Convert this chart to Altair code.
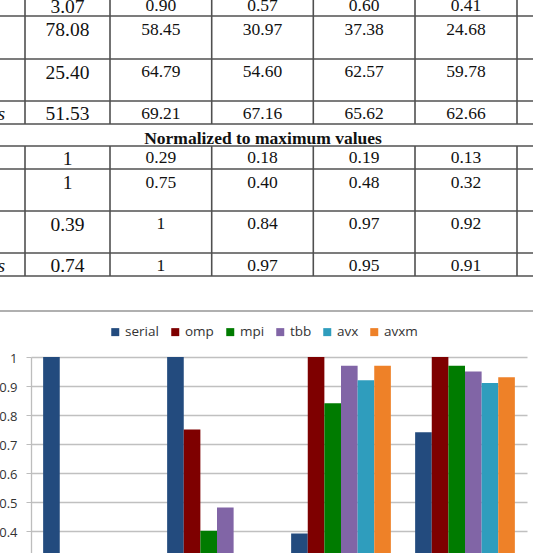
import altair as alt
import pandas as pd

# ---------------- data ----------------
series = ["serial", "omp", "mpi", "tbb", "avx", "avxm"]
colors = ["#234B7E", "#7E0000", "#007B00", "#8165A6", "#2F9DBD", "#EE8128"]
groups = ["row 1", "row 2", "row 3", "row 4"]
serial = [1.00, 1.00, 0.39, 0.74]
omp = [0.29, 0.75, 1.00, 1.00]
mpi = [0.18, 0.40, 0.84, 0.97]
tbb = [0.19, 0.48, 0.97, 0.95]
avx = [0.13, 0.32, 0.92, 0.91]
avxm = [0.14, 0.30, 0.97, 0.93]

raw_rows = [
    ["3.07", "0.90", "0.57", "0.60", "0.41"],
    ["78.08", "58.45", "30.97", "37.38", "24.68"],
    ["25.40", "64.79", "54.60", "62.57", "59.78"],
    ["51.53", "69.21", "67.16", "65.62", "62.66"],
]
norm_rows = [
    ["1", "0.29", "0.18", "0.19", "0.13"],
    ["1", "0.75", "0.40", "0.48", "0.32"],
    ["0.39", "1", "0.84", "0.97", "0.92"],
    ["0.74", "1", "0.97", "0.95", "0.91"],
]
caption = "Normalized to maximum values"
row_label_tail = "s"
y_ticks = [0.4, 0.5, 0.6, 0.7, 0.8, 0.9, 1.0]

# ---------------- layout (pixels of the page) ----------------
OX, OY = 31, 357           # plot-area origin on the page
PW, PH = 496, 196          # plot area size
col_lines = [25, 110, 211.7, 313.3, 415, 517]
col_centers = [(a + b) / 2 for a, b in zip(col_lines[:-1], col_lines[1:])]
t1_hlines = [16, 59, 101, 124]
t1_top = -5
t1_base_first = [12.5, 36.2, 78.5, 120]
t1_base_other = [11, 35, 77.3, 118.5]
t2_hlines = [146, 169, 211, 253, 276]
t2_base_first = [165, 188.5, 230.8, 272]
t2_base_other = [162.5, 187.5, 228.5, 270.8]

def gx(v):
    return v - OX

def gy(v):
    return v - OY

# table text frames
first_cells, other_cells = [], []
for rows, bf, bo in [(raw_rows, t1_base_first, t1_base_other),
                     (norm_rows, t2_base_first, t2_base_other)]:
    for r, row in enumerate(rows):
        for c, txt in enumerate(row):
            if c == 0:
                first_cells.append({"x": gx(col_centers[c]), "y": gy(bf[r]), "t": txt})
            else:
                other_cells.append({"x": gx(col_centers[c]), "y": gy(bo[r]), "t": txt})
first_df = pd.DataFrame(first_cells)
other_df = pd.DataFrame(other_cells)

tail_df = pd.DataFrame([{"x": gx(5), "y": gy(t1_base_first[3]), "t": row_label_tail},
                        {"x": gx(5), "y": gy(t2_base_first[3]), "t": row_label_tail}])
cap_df = pd.DataFrame([{"x": gx(263), "y": gy(144), "t": caption}])

# table rules
rules = []
for y in t1_hlines:
    rules.append({"x": gx(0), "x2": gx(533), "y": gy(y), "y2": gy(y)})
for x in col_lines:
    rules.append({"x": gx(x), "x2": gx(x), "y": gy(t1_top), "y2": gy(t1_hlines[-1])})
for y in t2_hlines:
    rules.append({"x": gx(0), "x2": gx(533), "y": gy(y), "y2": gy(y)})
for x in col_lines:
    rules.append({"x": gx(x), "x2": gx(x), "y": gy(t2_hlines[0]), "y2": gy(t2_hlines[-1])})
rules_df = pd.DataFrame(rules)
border_df = pd.DataFrame([{"x": gx(0), "x2": gx(533), "y": gy(311), "y2": gy(311)}])

# bar data
vals = {"serial": serial, "omp": omp, "mpi": mpi, "tbb": tbb, "avx": avx, "avxm": avxm}
bar_rows = []
for gi, g in enumerate(groups):
    for s in series:
        bar_rows.append({"group": g, "series": s, "value": vals[s][gi]})
bars_df = pd.DataFrame(bar_rows)

# ---------------- chart ----------------
px = lambda f: alt.X(f, scale=None, axis=None)
py = lambda f: alt.Y(f, scale=None, axis=None)

table_rules = alt.Chart(rules_df).mark_rule(color="#505050", strokeWidth=1.6).encode(
    x=px("x:Q"), x2="x2:Q", y=py("y:Q"), y2="y2:Q")
border = alt.Chart(border_df).mark_rule(color="#b0b0b0", strokeWidth=2).encode(
    x=px("x:Q"), x2="x2:Q", y=py("y:Q"), y2="y2:Q")

first_txt = alt.Chart(first_df).mark_text(
    font="Liberation Serif", fontSize=19.5, color="#111", align="center",
    baseline="alphabetic").encode(x=px("x:Q"), y=py("y:Q"), text="t:N")
other_txt = alt.Chart(other_df).mark_text(
    font="Liberation Serif", fontSize=17.5, color="#111", align="center",
    baseline="alphabetic").encode(x=px("x:Q"), y=py("y:Q"), text="t:N")
tail_txt = alt.Chart(tail_df).mark_text(
    font="Liberation Serif", fontSize=19.5, fontStyle="italic", color="#111",
    align="right", baseline="alphabetic").encode(x=px("x:Q"), y=py("y:Q"), text="t:N")
cap_txt = alt.Chart(cap_df).mark_text(
    font="Liberation Serif", fontSize=17.5, fontWeight="bold", color="#111",
    align="center", baseline="alphabetic").encode(x=px("x:Q"), y=py("y:Q"), text="t:N")

bars = alt.Chart(bars_df).mark_bar(clip=True).encode(
    x=alt.X("group:N", sort=groups, axis=None,
            scale=alt.Scale(paddingInner=0, paddingOuter=0)),
    xOffset=alt.XOffset("series:N", sort=series,
                        scale=alt.Scale(paddingInner=0, paddingOuter=0.73)),
    y=alt.Y("value:Q",
            scale=alt.Scale(domain=[0.323, 1.0], nice=False, zero=False),
            axis=alt.Axis(values=y_ticks, format="~g", title=None,
                          labelFont="Open Sans", labelFontSize=13, labelColor="#333",
                          labelPadding=9, labelOffset=1.5, tickSize=5,
                          tickColor="#bdbdbd", domainColor="#bdbdbd", domainWidth=1.3,
                          gridColor="#c0c0c0", gridWidth=1.4)),
    color=alt.Color("series:N", sort=series,
                    scale=alt.Scale(domain=series, range=colors),
                    legend=alt.Legend(orient="none", legendX=77.5, legendY=-32,
                                      direction="horizontal", title=None,
                                      symbolType="square", symbolSize=64,
                                      symbolStrokeWidth=0, symbolOpacity=1,
                                      labelFont="Open Sans", labelFontSize=13.5,
                                      labelColor="#333", labelOffset=3,
                                      columnPadding=9, padding=0)),
)

chart = alt.layer(
    border, table_rules, first_txt, other_txt, tail_txt, cap_txt, bars
).resolve_scale(x="independent", y="independent").properties(
    width=PW, height=PH,
    padding={"left": OX, "top": OY, "right": 533 - OX - PW, "bottom": 553 - OY - PH},
    autosize=alt.AutoSizeParams(type="none"),
    background="white",
).configure_view(strokeWidth=0)

chart.save("out.html", embed_options={"renderer": "svg", "actions": False})
